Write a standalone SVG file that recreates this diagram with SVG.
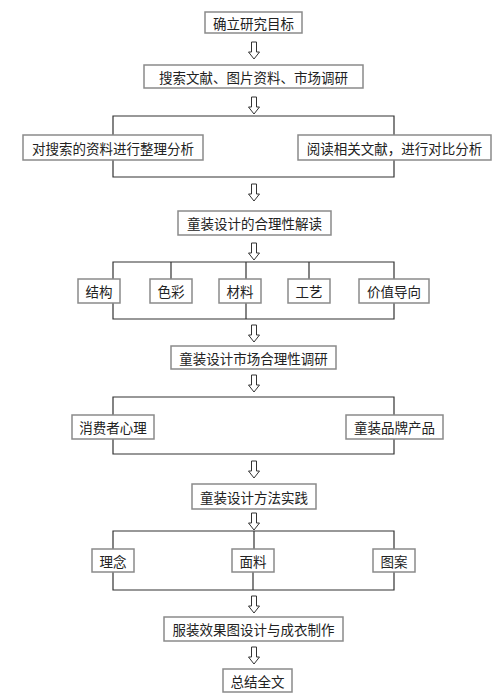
<svg xmlns="http://www.w3.org/2000/svg" width="497" height="696" viewBox="0 0 497 696">
<defs>
<style>
.box{fill:#fff;stroke:#8a8a8a;stroke-width:1.5}
.t{font-family:"Noto Sans CJK SC","Noto Sans CJK TC",sans-serif;font-size:13.5px;fill:#222;text-anchor:middle;dominant-baseline:central}
.ln{fill:none;stroke:#333;stroke-width:1.2}
.ar{fill:#fff;stroke:#333;stroke-width:1}
</style>
<path id="arr" class="ar" d="M-2.5,0 H2.5 V10 H5.5 L0,17 L-5.5,10 H-2.5 Z"/>
</defs>
<rect width="497" height="696" fill="#fff"/>
<g id="connectors">
<use href="#arr" x="254" y="42"/>
<use href="#arr" x="254" y="97"/>
<path class="ln" d="M113,135 V116 H394 V135"/>
<path class="ln" d="M113,160 V177 H394 V160"/>
<use href="#arr" x="254" y="184"/>
<use href="#arr" x="254" y="243"/>
<path class="ln" d="M113,279 V262 H394 V279 M171,262 V279 M246,262 V279 M309,262 V279"/>
<path class="ln" d="M113,303 V319 H394 V303 M246,303 V319"/>
<use href="#arr" x="254" y="325"/>
<use href="#arr" x="254" y="375"/>
<path class="ln" d="M113,415 V397 H394 V415"/>
<path class="ln" d="M113,439 V454 H394 V439"/>
<use href="#arr" x="254" y="461"/>
<use href="#arr" x="254" y="513"/>
<path class="ln" d="M113,549 V531 H394 V549 M254,531 V549"/>
<path class="ln" d="M113,572 V590 H394 V572 M253,572 V590"/>
<use href="#arr" x="254" y="596"/>
<use href="#arr" x="254" y="647"/>
</g>
<g id="n1"><rect class="box" x="205" y="12" width="97" height="21"/><text class="t" x="253.5" y="22.5">确立研究目标</text></g>
<g id="n2"><rect class="box" x="144" y="65" width="219" height="23"/><text class="t" x="253.5" y="76.5">搜索文献、图片资料、市场调研</text></g>
<g id="n3"><rect class="box" x="23" y="135" width="180" height="25"/><text class="t" x="113" y="147.5">对搜索的资料进行整理分析</text></g>
<g id="n4"><rect class="box" x="298" y="135" width="193" height="25"/><text class="t" x="394.5" y="147.5">阅读相关文献，进行对比分析</text></g>
<g id="n5"><rect class="box" x="178" y="211" width="153" height="24"/><text class="t" x="254.5" y="223">童装设计的合理性解读</text></g>
<g id="n6"><rect class="box" x="78" y="279" width="42" height="24"/><text class="t" x="99" y="291">结构</text></g>
<g id="n7"><rect class="box" x="150" y="279" width="42" height="24"/><text class="t" x="171" y="291">色彩</text></g>
<g id="n8"><rect class="box" x="219" y="279" width="42" height="24"/><text class="t" x="240" y="291">材料</text></g>
<g id="n9"><rect class="box" x="288" y="279" width="42" height="24"/><text class="t" x="309" y="291">工艺</text></g>
<g id="n10"><rect class="box" x="359" y="279" width="70" height="24"/><text class="t" x="394" y="291">价值导向</text></g>
<g id="n11"><rect class="box" x="171" y="346" width="165" height="23"/><text class="t" x="253.5" y="357.5">童装设计市场合理性调研</text></g>
<g id="n12"><rect class="box" x="72" y="415" width="82" height="24"/><text class="t" x="113" y="427">消费者心理</text></g>
<g id="n13"><rect class="box" x="346" y="415" width="97" height="24"/><text class="t" x="394.5" y="427">童装品牌产品</text></g>
<g id="n14"><rect class="box" x="192" y="484" width="124" height="25"/><text class="t" x="254" y="496.5">童装设计方法实践</text></g>
<g id="n15"><rect class="box" x="92" y="549" width="42" height="23"/><text class="t" x="113" y="560.5">理念</text></g>
<g id="n16"><rect class="box" x="232" y="549" width="42" height="23"/><text class="t" x="253" y="560.5">面料</text></g>
<g id="n17"><rect class="box" x="373" y="549" width="42" height="23"/><text class="t" x="394" y="560.5">图案</text></g>
<g id="n18"><rect class="box" x="164" y="617" width="179" height="24"/><text class="t" x="253.5" y="629">服装效果图设计与成衣制作</text></g>
<g id="n19"><rect class="box" x="223" y="669" width="69" height="23"/><text class="t" x="257.5" y="680.5">总结全文</text></g>
</svg>
